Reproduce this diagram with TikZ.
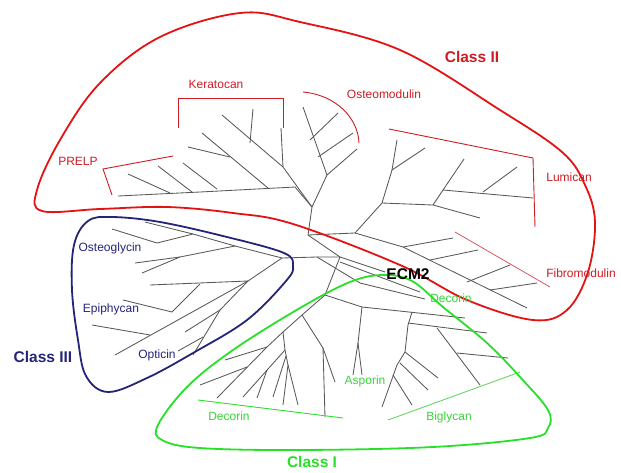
\documentclass[tikz,border=0pt]{standalone}
\usepackage{fontspec}
\setmainfont{Liberation Sans}
\definecolor{hullred}{RGB}{228,18,18}
\definecolor{textred}{RGB}{205,28,36}
\definecolor{markred}{RGB}{210,70,80}
\definecolor{navy}{RGB}{36,36,120}
\definecolor{hullgreen}{RGB}{40,224,40}
\definecolor{textgreen}{RGB}{56,212,56}
\definecolor{markgreen}{RGB}{100,212,100}
\definecolor{branch}{RGB}{88,88,88}
\begin{document}
\begin{tikzpicture}[x=1pt,y=-1pt,
  br/.style={draw=branch, line width=0.85pt, line join=round},
  hull/.style={line width=1.8pt},
  marker/.style={line width=0.9pt},
  lab/.style={inner sep=0pt, font=\fontsize{12}{14}\selectfont},
  cls/.style={inner sep=0pt, font=\fontsize{15.5}{18}\selectfont\bfseries}]
\useasboundingbox (0,0) rectangle (621,472);

% ---------- Class II: Keratocan / PRELP ----------
\draw[br] (118,196) -- (200,192) -- (295,187) -- (312,207);
\draw[br] (128,174) -- (170,193);
\draw[br] (158,166) -- (192,192);
\draw[br] (183,163) -- (217,189);
\draw[br] (202,133) -- (268,188);
\draw[br] (188,147) -- (230,157);
\draw[br] (222,115) -- (283,167) -- (312,207);
\draw[br] (253,109) -- (250,143);
\draw[br] (281,128) -- (283,167);

% ---------- Class II: Osteomodulin ----------
\draw[br] (303,107) -- (327,175) -- (312,207);
\draw[br] (310,140) -- (338,113);
\draw[br] (318,157) -- (353,133);
\draw[br] (327,175) -- (357,149);

% ---------- trunk ----------
\draw[br] (312,207) -- (308,235) -- (355,233);

% ---------- Class II: Lumican ----------
\draw[br] (355,233) -- (382,203) -- (392,170) -- (397,140);
\draw[br] (392,170) -- (425,148);
\draw[br] (382,203) -- (433,205);
\draw[br] (433,205) -- (443,190) -- (464,159);
\draw[br] (443,190) -- (533,198);
\draw[br] (483,192) -- (517,167);
\draw[br] (433,205) -- (480,218);

% ---------- Class II: Fibromodulin ----------
\draw[br] (355,233) -- (403,247) -- (527,308);
\draw[br] (403,247) -- (453,238);
\draw[br] (430,260) -- (478,250);
\draw[br] (467,282) -- (510,265);
\draw[br] (490,290) -- (537,283);

% ---------- centre: ECM2 and Decorin ----------
\draw[br] (308,235) -- (340,257);
\draw[br] (282,258) -- (317,257) -- (340,257);
\draw[br] (340,257) -- (385,272);
\draw[br] (317,257) -- (360,283) -- (425,299);
\draw[br] (340,262) -- (420,292);
\draw[br] (340,257) -- (325,295);

% ---------- Class III ----------
\draw[br] (282,258) -- (235,246) -- (193,234) -- (145,222);
\draw[br] (193,234) -- (157,243) -- (112,229);
\draw[br] (235,246) -- (180,257) -- (135,263);
\draw[br] (180,257) -- (142,273);
\draw[br] (282,258) -- (248,281) -- (150,285);
\draw[br] (200,284) -- (172,312) -- (123,300);
\draw[br] (248,281) -- (115,355);
\draw[br] (150,335) -- (92,325);
\draw[br] (248,281) -- (220,310) -- (193,355);
\draw[br] (220,310) -- (185,332);
\draw[br] (203,337) -- (178,351);

% ---------- Class I ----------
\draw[br] (325,295) -- (362,307) -- (465,318);
\draw[br] (362,307) -- (358,343) -- (353,375);
\draw[br] (358,343) -- (362,375);
\draw[br] (412,312) -- (408,325) -- (405,352);
\draw[br] (408,323) -- (487,333);
\draw[br] (437,328) -- (480,385);
\draw[br] (457,353) -- (508,358);
\draw[br] (405,352) -- (438,378);
\draw[br] (405,352) -- (397,365) -- (382,407);
\draw[br] (400,363) -- (428,390);
\draw[br] (393,375) -- (412,405);
\draw[br] (325,295) -- (302,315) -- (283,332);
\draw[br] (283,332) -- (285,350) -- (243,397);
\draw[br] (267,370) -- (257,398);
\draw[br] (285,350) -- (288,365) -- (283,405);
\draw[br] (288,365) -- (298,405);
\draw[br] (286,356) -- (273,397);
\draw[br] (283,332) -- (267,347) -- (217,398);
\draw[br] (267,347) -- (225,360);
\draw[br] (247,367) -- (200,385);
\draw[br] (302,315) -- (323,348) -- (335,382);
\draw[br] (323,348) -- (325,417);

% ---------- subgroup markers ----------
\draw[textred, marker] (178,128) -- (178,98) -- (283,98) -- (283,128);
\draw[textred, marker] (112,195) -- (103,169) -- (173,156);
\draw[textred, marker] (303,92) .. controls (336,95) and (358,118) .. (359,143);
\draw[textred, marker] (389,129) -- (533,158) -- (535,227);
\draw[markred, line width=0.7pt] (455,232) -- (550,287);
\draw[hullgreen, marker] (198,400) -- (343,418);
\draw[markgreen, marker] (388,420) -- (520,372);

% ---------- class hulls ----------
\draw[hullred, hull] plot[smooth cycle, tension=0.6] coordinates {
  (42,211) (100,209) (167,207) (233,213) (293,224) (400,265) (467,300)
  (533,320) (567,310) (588,272) (595,222) (585,185) (562,152) (500,110)
  (400,50) (300,22) (240,13) (160,37) (100,83) (60,140) (37,190)};
\draw[navy, hull] plot[smooth cycle, tension=0.6] coordinates {
  (108,392) (86,376) (78,340) (72,290) (74,245) (88,221) (112,217)
  (160,222) (227,237) (284,253) (293,266) (286,281) (247,320) (193,353)
  (147,378)};
\draw[hullgreen, hull] plot[smooth cycle, tension=0.6] coordinates {
  (158,425) (187,387) (233,350) (300,308) (350,282) (383,275) (412,281)
  (443,307) (487,343) (520,377) (548,410) (548,428) (530,438) (433,447)
  (300,450) (200,448) (162,440)};

% ---------- labels ----------
\node[cls, text=textred] (cII) at (472,57) {Class II};
\node[lab, text=textred] (kera) at (216,84) {Keratocan};
\node[lab, text=textred] (osteom) at (384,94) {Osteomodulin};
\node[lab, text=textred] (prelp) at (78,161) {PRELP};
\node[lab, text=textred] (lumi) at (569,177) {Lumican};
\node[lab, text=textred] (fibro) at (581,273) {Fibromodulin};
\node[cls, text=black] (ecm) at (408,274) {ECM2};
\node[lab, text=textgreen] (deco1) at (451,298) {Decorin};
\node[lab, text=navy] (osteog) at (110,248) {Osteoglycin};
\node[lab, text=navy] (epi) at (111,309) {Epiphycan};
\node[lab, text=navy] (opti) at (157,355) {Opticin};
\node[cls, text=navy] (cIII) at (43,357) {Class III};
\node[lab, text=textgreen] (deco2) at (229,416) {Decorin};
\node[lab, text=textgreen] (aspo) at (365,381) {Asporin};
\node[lab, text=textgreen] (bigl) at (449,417) {Biglycan};
\node[cls, text=hullgreen] (cI) at (312,462) {Class I};
\end{tikzpicture}
\end{document}
